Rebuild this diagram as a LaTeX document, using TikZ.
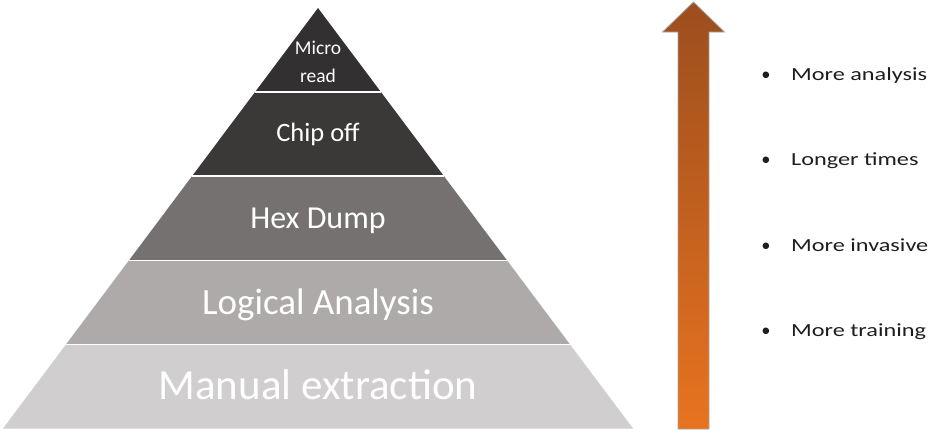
\documentclass[tikz,border=0pt]{standalone}
\usepackage{fontspec}
\setmainfont{Carlito}
\usetikzlibrary{calc}
\definecolor{lay1}{HTML}{323031}
\definecolor{lay2}{HTML}{3B3838}
\definecolor{lay3}{HTML}{767171}
\definecolor{lay4}{HTML}{AEAAAA}
\definecolor{lay5}{HTML}{D0CECE}
\definecolor{arrtop}{HTML}{9C4E1E}
\definecolor{arrbot}{HTML}{E8731F}
\definecolor{bultext}{HTML}{1E1E1E}
\tikzset{
  laytext/.style={text=white, inner sep=0pt, anchor=base},
  bullet/.style={text=bultext, inner sep=0pt, anchor=base, font=\fontsize{18.5}{22}\selectfont},
  bultxt/.style={text=bultext, inner sep=0pt, anchor=base west, font=\fontsize{18.5}{22}\selectfont},
  sep/.style={white, line width=1.6pt}
}
\begin{document}
\begin{tikzpicture}[x=1pt,y=-1pt]
\useasboundingbox (0,0) rectangle (945,437);
\coordinate (A) at (318,8);
\coordinate (BL) at (3,428.5);
\coordinate (BR) at (633,428.5);
\foreach \n/\t in {1/0.2, 2/0.4, 3/0.6, 4/0.8}{
  \coordinate (L\n) at ($(A)!\t!(BL)$);
  \coordinate (R\n) at ($(A)!\t!(BR)$);
}
\fill[lay1] (A) -- (L1) -- (R1) -- cycle;
\fill[lay2] (L1) -- (L2) -- (R2) -- (R1) -- cycle;
\fill[lay3] (L2) -- (L3) -- (R3) -- (R2) -- cycle;
\fill[lay4] (L3) -- (L4) -- (R4) -- (R3) -- cycle;
\fill[lay5] (L4) -- (BL) -- (BR) -- (R4) -- cycle;
\foreach \n in {1,2,3,4}{ \draw[sep] (L\n) -- (R\n); }

\node[laytext, font=\fontsize{19.5}{28}\selectfont, align=center, anchor=center] (micro) at (318,61.5) {Micro\\read};
\node[laytext, font=\fontsize{26.5}{31}\selectfont] (chip) at (318,141) {Chip off};
\node[laytext, font=\fontsize{32}{38}\selectfont] (hex) at (318,228) {Hex Dump};
\node[laytext, font=\fontsize{37}{44}\selectfont] (logic) at (318,314) {Logical Analysis};
\node[laytext, font=\fontsize{43}{50}\selectfont] (manual) at (318,399) {Manual extraction};

% arrow
\shade[top color=arrtop, bottom color=arrbot, draw=gray!70, line width=0.8pt]
  (678,429) -- (678,32) -- (662.5,32) -- (693.5,2) -- (724.5,32) -- (709,32) -- (709,429) -- cycle;

\foreach \i/\y/\t in {1/80/More analysis, 2/165.5/Longer times, 3/251/More invasive, 4/336.5/More training}{
  \node[bullet] (b\i) at (766,\y) {•};
  \node[bultxt] (t\i) at (791,\y) {\scalebox{1.31}[1]{\t}};
}
\end{tikzpicture}
\end{document}
